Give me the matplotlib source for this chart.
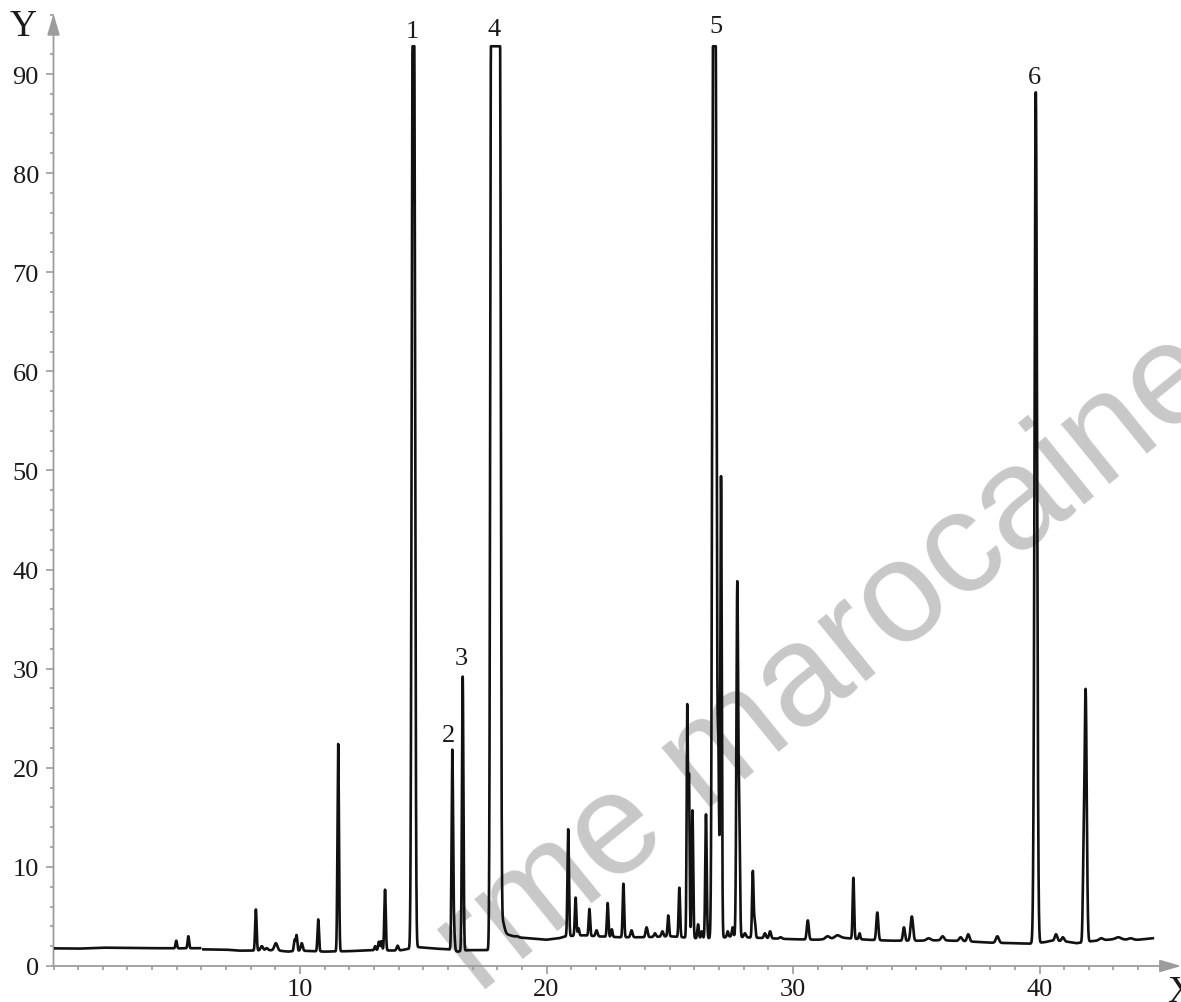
import numpy as np
import matplotlib
matplotlib.use("Agg")
import matplotlib.pyplot as plt
from matplotlib.ticker import MultipleLocator, FixedLocator

# ---------------- data ----------------
# baseline level (retention time, signal)
baseline_t = [0.05, 1.0, 2.0, 3.0, 4.0, 5.0, 5.95, 6.08, 7.0, 7.5, 8.0, 9.0, 9.5,
              10.0, 10.5, 11.0, 12.0, 13.0, 14.0, 14.8, 15.5, 16.0, 16.4, 16.8,
              17.2, 17.65, 18.25, 18.8, 19.5, 20.0, 20.5, 20.8, 21.5, 22.0, 23.0,
              24.0, 25.0, 25.5, 26.0, 27.0, 27.5, 28.0, 29.0, 30.0, 31.0, 32.0,
              33.0, 34.0, 35.0, 36.0, 37.0, 38.0, 39.0, 39.6, 40.2, 40.5, 41.0,
              41.5, 42.1, 43.0, 44.0, 44.6]
baseline_v = [1.78, 1.75, 1.85, 1.82, 1.80, 1.78, 1.80, 1.68, 1.65, 1.55, 1.55, 1.60, 1.45,
              1.55, 1.50, 1.45, 1.50, 1.60, 1.55, 1.90, 1.75, 1.70, 1.45, 1.60,
              1.60, 1.60, 3.30, 2.90, 2.75, 2.65, 2.80, 3.00, 3.10, 3.00, 2.90,
              2.90, 3.00, 2.90, 2.80, 2.80, 3.00, 2.90, 2.80, 2.70, 2.65, 2.85,
              2.65, 2.55, 2.55, 2.60, 2.50, 2.35, 2.30, 2.25, 2.40, 2.55, 2.50,
              2.30, 2.50, 2.70, 2.65, 2.80]
# break in the recorded trace
gap_start = [5.95]
gap_end = [6.08]
# detector saturation level (flat tops of peaks 1, 4, 5)
saturation = 92.8

# peaks: retention time, apex signal, width (sigma), half-width of saturated flat top
peak_rt = [4.98, 5.47, 8.21, 8.45, 8.65, 9.02, 9.78, 9.86, 10.07, 10.74,
           11.55, 13.05, 13.20, 13.30, 13.45, 13.96, 14.60, 16.18, 16.25, 16.60,
           17.93, 18.20, 18.80, 20.88, 21.18, 21.30, 21.74, 22.03, 22.48, 22.65,
           23.12, 23.45, 24.06, 24.40, 24.70, 24.94, 25.39, 25.71, 25.78, 25.92,
           26.15, 26.30, 26.47, 26.81, 26.97, 27.08, 27.35, 27.55, 27.74, 27.82,
           28.05, 28.37, 28.45, 28.86, 29.07, 29.50, 30.60, 31.40, 31.80, 32.45,
           32.70, 33.42, 34.50, 34.82, 35.50, 36.07, 36.80, 37.11, 38.29, 39.85,
           40.67, 40.95, 41.78, 41.87, 42.50, 43.20, 43.70]
peak_top = [2.55, 3.0, 5.7, 2.0, 1.8, 2.3, 2.6, 3.1, 2.3, 4.7,
            22.4, 2.0, 2.45, 2.5, 7.7, 2.05, 95.0, 21.7, 3.5, 29.2,
            95.0, 4.5, 3.0, 13.8, 6.9, 3.8, 5.75, 3.6, 6.35, 3.7,
            8.3, 3.6, 3.9, 3.3, 3.5, 5.1, 7.9, 26.1, 18.9, 15.7,
            4.2, 3.5, 15.3, 95.0, 21.0, 49.4, 3.5, 3.9, 38.5, 14.0,
            3.3, 9.55, 4.5, 3.3, 3.5, 2.9, 4.6, 3.0, 3.1, 8.9,
            3.3, 5.4, 3.9, 5.0, 2.8, 3.0, 2.9, 3.2, 3.0, 88.15,
            3.2, 2.9, 7.9, 27.9, 2.8, 2.9, 2.8]
peak_sigma = [0.03, 0.03, 0.03, 0.05, 0.05, 0.06, 0.03, 0.03, 0.04, 0.03,
              0.03, 0.03, 0.03, 0.03, 0.03, 0.04, 0.04, 0.03, 0.03, 0.03,
              0.035, 0.08, 0.06, 0.03, 0.03, 0.03, 0.03, 0.04, 0.03, 0.03,
              0.03, 0.04, 0.04, 0.04, 0.04, 0.03, 0.03, 0.025, 0.025, 0.03,
              0.03, 0.03, 0.03, 0.04, 0.03, 0.03, 0.03, 0.03, 0.035, 0.03,
              0.04, 0.03, 0.03, 0.04, 0.04, 0.05, 0.04, 0.08, 0.10, 0.03,
              0.03, 0.04, 0.04, 0.05, 0.08, 0.06, 0.06, 0.05, 0.06, 0.05,
              0.05, 0.05, 0.03, 0.045, 0.08, 0.10, 0.08]
peak_flat = [0.0] * len(peak_rt)
peak_flat[peak_rt.index(14.60)] = 0.03
peak_flat[peak_rt.index(17.93)] = 0.18
peak_flat[peak_rt.index(26.81)] = 0.05

# numbered peak labels (text, x, y)
label_text = ["1", "2", "3", "4", "5", "6"]
label_x = [14.54, 16.04, 16.53, 17.87, 26.88, 39.78]
label_y = [94.3, 23.3, 31.1, 94.5, 94.8, 89.7]

x_major = [10, 20, 30, 40]
y_major = [0, 10, 20, 30, 40, 50, 60, 70, 80, 90]

# ---------------- build trace ----------------
t = np.arange(baseline_t[0], baseline_t[-1], 0.002)
base = np.interp(t, baseline_t, baseline_v)
sig = base.copy()
for rt, top, s, w in zip(peak_rt, peak_top, peak_sigma, peak_flat):
    amp = top - np.interp(rt, baseline_t, baseline_v)
    d = np.maximum(np.abs(t - rt) - w, 0.0)
    sig += amp * np.exp(-0.5 * (d / s) ** 2)
sig = np.minimum(sig, saturation)
for a, b in zip(gap_start, gap_end):
    sig[(t > a) & (t < b)] = np.nan

# ---------------- figure ----------------
W, H = 1181, 1003
fig = plt.figure(figsize=(W / 100, H / 100), dpi=100)
xmax, ymax = 45.75, 96.1
ax = fig.add_axes([53.5 / W, 36 / H, xmax * 24.65 / W, ymax * 9.911 / H])
ax.set_xlim(0, xmax)
ax.set_ylim(0, ymax)
ax.patch.set_alpha(0)

for sp in ax.spines.values():
    sp.set_visible(False)

axis_col = "#9c9c9c"
arrow = dict(arrowstyle="-|>,head_length=1.3,head_width=0.38", color=axis_col,
             lw=1.3, shrinkA=0, shrinkB=0)
ax.annotate("", xy=(xmax, 0), xytext=(0, 0), arrowprops=arrow, annotation_clip=False)
ax.annotate("", xy=(0, ymax), xytext=(0, 0), arrowprops=arrow, annotation_clip=False)

# watermark
ax.text(478 / W, 1 - 995 / H, "rme marocaine", transform=fig.transFigure,
        rotation=39, rotation_mode="anchor", ha="left", va="baseline",
        fontsize=104, family="Liberation Sans", color="#c8c8c8", zorder=0.5,
        clip_on=False)

ax.plot(t, sig, color="#111111", lw=1.9, solid_joinstyle="round", zorder=3)

ax.xaxis.set_major_locator(FixedLocator(x_major))
ax.xaxis.set_minor_locator(MultipleLocator(1))
ax.yaxis.set_major_locator(FixedLocator(y_major))
ax.yaxis.set_minor_locator(MultipleLocator(2))
ax.tick_params(which="both", direction="out", color=axis_col, width=1.2)
ax.tick_params(which="major", length=5.5)
ax.tick_params(which="minor", length=2.6)
ax.tick_params(axis="y", which="major", pad=5)
ax.tick_params(axis="x", which="major", pad=3)
for lab in ax.get_xticklabels() + ax.get_yticklabels():
    lab.set_family("Liberation Serif")
    lab.set_fontsize(19)
    lab.set_color("#1a1a1a")

serif = "Liberation Serif"
for s, x, y in zip(label_text, label_x, label_y):
    ax.text(x, y, s, ha="center", va="center", fontsize=19, family=serif,
            color="#1a1a1a", zorder=4, clip_on=False)

fig.text(23 / W, 1 - 27 / H, "Y", ha="center", va="center", fontsize=27,
         family=serif, color="#1a1a1a")
fig.text(1181 / W, 1 - 993 / H, "X", ha="center", va="center", fontsize=27,
         family=serif, color="#1a1a1a")

fig.savefig("out.png", dpi=100)
